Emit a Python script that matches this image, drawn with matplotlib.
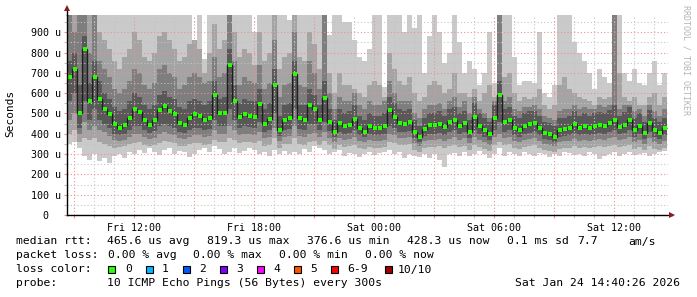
import pandas as pd
import numpy as np
import matplotlib
matplotlib.use("Agg")
import matplotlib.pyplot as plt
import matplotlib.dates as mdates
from matplotlib.patches import Rectangle
from matplotlib.ticker import MultipleLocator, FuncFormatter

# start of the 30 hour window, one column per 15 minutes
start_time = "2026-01-23 08:40"
step = "15min"

# median rtt per column, in microseconds
median_us = [
    680, 720, 500, 819, 560, 680, 570, 520, 495, 450,
    430, 445, 480, 520, 505, 470, 445, 470, 515, 535,
    510, 495, 455, 445, 480, 495, 490, 470, 480, 590,
    500, 500, 740, 560, 482, 495, 490, 485, 545, 450,
    475, 640, 420, 470, 480, 694, 478, 470, 540, 520,
    470, 575, 460, 410, 455, 440, 445, 475, 430, 410,
    440, 430, 430, 440, 515, 485, 455, 450, 460, 410,
    385, 425, 443, 445, 450, 435, 460, 470, 440, 455,
    410, 485, 440, 420, 400, 480, 590, 460, 470, 430,
    420, 440, 450, 455, 430, 405, 400, 385, 420, 425,
    430, 450, 430, 440, 430, 440, 445, 440, 455, 470,
    435, 445, 470, 420, 440, 405, 455, 420, 405, 428,
]

# sorted pings: lowest (ping 1) .. ping 4 below the median
ping1 = [
    350, 360, 330, 290, 270, 300, 265, 280, 255, 290,
    300, 280, 310, 300, 320, 305, 330, 310, 295, 320,
    330, 300, 315, 310, 285, 300, 320, 330, 310, 340,
    325, 300, 310, 330, 305, 315, 330, 320, 300, 310,
    290, 320, 300, 315, 300, 310, 300, 325, 310, 340,
    330, 320, 300, 310, 320, 290, 305, 300, 285, 300,
    310, 295, 305, 310, 320, 300, 310, 280, 300, 290,
    285, 300, 280, 300, 270, 236, 300, 305, 290, 310,
    290, 300, 315, 300, 280, 300, 330, 290, 310, 300,
    290, 310, 300, 290, 305, 300, 285, 300, 290, 310,
    305, 295, 300, 290, 310, 300, 275, 290, 300, 310,
    290, 300, 310, 295, 300, 305, 290, 300, 310, 315,
]
ping2 = [
    400, 420, 360, 380, 370, 380, 360, 350, 340, 330,
    335, 340, 350, 355, 360, 345, 340, 345, 355, 365,
    360, 355, 340, 340, 350, 355, 355, 345, 350, 370,
    360, 360, 380, 370, 355, 360, 360, 355, 365, 340,
    345, 380, 330, 350, 350, 380, 350, 345, 360, 365,
    345, 365, 345, 325, 345, 335, 340, 345, 330, 325,
    335, 330, 330, 335, 360, 355, 345, 345, 350, 320,
    310, 330, 335, 335, 340, 330, 340, 345, 335, 340,
    320, 345, 335, 325, 315, 345, 360, 345, 350, 330,
    325, 335, 340, 345, 330, 320, 315, 310, 325, 330,
    330, 340, 330, 335, 330, 335, 340, 335, 340, 345,
    335, 340, 345, 325, 335, 320, 340, 325, 320, 330,
]
ping3 = [
    470, 500, 400, 460, 420, 440, 420, 410, 390, 370,
    365, 370, 385, 400, 400, 385, 375, 380, 400, 410,
    400, 395, 380, 375, 385, 395, 395, 385, 390, 420,
    400, 400, 440, 420, 395, 400, 400, 395, 410, 380,
    385, 430, 365, 385, 390, 440, 390, 385, 400, 405,
    385, 410, 380, 360, 380, 370, 375, 385, 365, 360,
    370, 365, 365, 370, 400, 395, 380, 380, 385, 355,
    340, 365, 370, 370, 375, 365, 375, 385, 370, 380,
    355, 385, 370, 360, 345, 385, 400, 380, 385, 365,
    360, 370, 375, 380, 365, 350, 345, 340, 360, 365,
    365, 375, 365, 370, 365, 370, 375, 370, 380, 385,
    370, 375, 385, 360, 370, 350, 380, 360, 350, 365,
]
ping4 = [
    560, 600, 430, 560, 470, 520, 470, 450, 430, 400,
    395, 400, 420, 440, 440, 420, 405, 415, 440, 450,
    440, 430, 410, 405, 420, 430, 430, 420, 425, 470,
    440, 440, 520, 470, 430, 440, 435, 430, 460, 410,
    420, 500, 390, 420, 425, 520, 425, 420, 450, 450,
    420, 460, 415, 385, 410, 400, 405, 420, 395, 385,
    400, 395, 395, 400, 440, 430, 410, 410, 415, 380,
    360, 390, 400, 400, 405, 395, 410, 420, 400, 410,
    380, 420, 400, 385, 370, 420, 460, 410, 420, 395,
    385, 400, 405, 410, 395, 375, 370, 360, 385, 390,
    395, 405, 395, 400, 395, 400, 405, 400, 410, 420,
    400, 405, 420, 385, 400, 375, 410, 385, 375, 395,
]

# sorted pings above the median: ping 7 .. highest (ping 10)
ping7 = [
    760, 800, 640, 880, 650, 760, 660, 600, 570, 530,
    510, 520, 560, 600, 580, 540, 520, 540, 590, 610,
    580, 570, 530, 520, 560, 570, 560, 540, 560, 660,
    570, 580, 820, 640, 550, 570, 560, 560, 620, 520,
    550, 720, 490, 540, 550, 760, 540, 540, 620, 590,
    540, 660, 520, 470, 520, 500, 510, 540, 490, 470,
    500, 490, 490, 500, 580, 550, 520, 510, 520, 470,
    440, 480, 500, 500, 510, 490, 520, 530, 500, 510,
    470, 550, 500, 480, 460, 540, 660, 520, 530, 490,
    480, 500, 510, 510, 490, 460, 455, 440, 480, 480,
    490, 510, 490, 500, 490, 500, 505, 500, 515, 540,
    490, 505, 530, 480, 500, 460, 515, 480, 460, 480,
]
ping8 = [
    990, 900, 990, 990, 800, 990, 760, 720, 680, 620,
    600, 620, 660, 720, 700, 640, 620, 650, 720, 740,
    700, 680, 620, 640, 680, 700, 680, 650, 660, 780,
    680, 700, 990, 760, 640, 680, 660, 650, 740, 620,
    650, 860, 580, 640, 650, 900, 640, 630, 760, 700,
    620, 990, 600, 520, 580, 560, 560, 600, 540, 520,
    560, 540, 540, 560, 660, 600, 560, 560, 560, 500,
    480, 520, 540, 540, 550, 520, 560, 580, 530, 560,
    500, 580, 520, 500, 480, 560, 990, 560, 580, 520,
    510, 530, 530, 540, 520, 490, 480, 470, 510, 520,
    520, 540, 520, 530, 520, 520, 540, 530, 540, 990,
    520, 540, 540, 510, 520, 490, 540, 510, 490, 520,
]
ping9 = [
    990, 990, 990, 990, 990, 990, 900, 860, 820, 760,
    720, 780, 820, 900, 860, 780, 760, 800, 880, 900,
    860, 820, 760, 780, 840, 860, 820, 700, 800, 940,
    820, 860, 990, 900, 780, 820, 800, 740, 900, 760,
    800, 990, 720, 780, 800, 990, 780, 760, 900, 840,
    720, 990, 700, 600, 700, 640, 640, 620, 600, 580,
    640, 660, 640, 580, 800, 720, 660, 640, 680, 600,
    560, 580, 640, 660, 640, 600, 620, 700, 600, 600,
    580, 620, 560, 600, 640, 580, 990, 680, 700, 600,
    560, 580, 570, 580, 620, 540, 520, 540, 640, 680,
    620, 600, 580, 570, 560, 540, 580, 570, 580, 990,
    700, 580, 560, 580, 540, 540, 580, 600, 540, 580,
]
ping10 = [
    990, 990, 990, 990, 990, 990, 990, 990, 990, 990,
    990, 990, 990, 990, 990, 990, 990, 990, 990, 990,
    990, 990, 990, 990, 990, 860, 990, 770, 990, 990,
    990, 990, 990, 990, 990, 990, 990, 900, 990, 990,
    990, 990, 990, 990, 960, 990, 990, 990, 990, 990,
    990, 990, 885, 990, 990, 950, 950, 860, 780, 760,
    820, 990, 990, 630, 990, 990, 990, 900, 990, 920,
    990, 700, 880, 990, 900, 750, 800, 990, 850, 700,
    760, 720, 640, 700, 900, 650, 990, 990, 990, 780,
    640, 660, 660, 650, 900, 600, 580, 640, 990, 990,
    990, 850, 800, 760, 700, 620, 720, 680, 650, 990,
    990, 700, 660, 720, 650, 640, 700, 760, 640, 700,
]

# legend texts
loss_labels = ["0", "1", "2", "3", "4", "5", "6-9", "10/10"]
loss_colors = ["#26ff00", "#00b8ff", "#0059ff", "#7e00ff", "#ff00ff", "#ff5500", "#ff0000", "#a00000"]
rtt_stats = ["465.6 us avg", "819.3 us max", "376.6 us min", "428.3 us now", "0.1 ms sd", "7.7", "am/s"]
loss_stats = ["0.00 % avg", "0.00 % max", "0.00 % min", "0.00 % now"]
probe_text = "10 ICMP Echo Pings (56 Bytes) every 300s"
stamp_text = "Sat Jan 24 14:40:26 2026"

W, H = 697, 297
mono = "DejaVu Sans Mono"
plt.rcParams["font.family"] = mono


def px(x, y):
    # pixel position in the image -> figure fraction
    return x / W, 1 - y / H


fig = plt.figure(figsize=(W / 100, H / 100), dpi=100)
ax = fig.add_axes([67 / W, (H - 215) / H, 601 / W, 200 / H])

# column edges in matplotlib date numbers
edges = mdates.date2num(pd.date_range(start_time, periods=len(median_us) + 1, freq=step))
centers = (edges[:-1] + edges[1:]) / 2

# smoke: outer pair of pings lightest, inner pair darkest
bands = [
    (ping1, ping10, "#cacaca"),
    (ping2, ping9, "#a4a4a4"),
    (ping3, ping8, "#7e7e7e"),
    (ping4, ping7, "#585858"),
]
for lo, hi, col in bands:
    ax.stairs(hi, edges, baseline=lo, fill=True, color=col, lw=0, zorder=1)

# dark connecting line through the medians
ax.stairs(median_us, edges, color="#1e1e1e", lw=1.0, zorder=2, baseline=None)

# median markers coloured by loss (all 0 here)
ax.plot(centers, median_us, ls="none", marker="s", ms=2.3, mew=0,
        color=loss_colors[0], zorder=5)

# axes limits
ax.set_ylim(0, 985)
ax.set_xlim(edges[0], edges[0] + 30.05 / 24)

# grid: red every 100 u / 3 h, grey every 50 u / 1 h
ax.yaxis.set_major_locator(MultipleLocator(100))
ax.yaxis.set_minor_locator(MultipleLocator(50))
ax.xaxis.set_major_locator(mdates.HourLocator(byhour=range(0, 24, 3)))
ax.xaxis.set_minor_locator(mdates.HourLocator())
ax.grid(which="minor", color="#c4c4c4", ls=(0, (1, 2)), lw=0.8, zorder=3)
ax.grid(which="major", color="#f09090", ls=(0, (1, 2)), lw=0.8, zorder=3)


def y_fmt(v, pos):
    if v == 0:
        return "0  "
    return "%d u" % v


def x_fmt(v, pos):
    d = mdates.num2date(v)
    if d.hour % 6 == 0:
        return d.strftime("%a %H:%M")
    return ""


ax.yaxis.set_major_formatter(FuncFormatter(y_fmt))
ax.xaxis.set_major_formatter(FuncFormatter(x_fmt))
ax.tick_params(which="both", labelsize=7.2, length=2, width=0.8, colors="black", pad=2)
ax.tick_params(which="minor", color="#c4c4c4")
ax.tick_params(axis="x", which="major", color="#f09090", pad=4)
ax.tick_params(axis="y", which="major", color="#f09090")

# axes lines with small arrows like rrdtool
for side in ["top", "right"]:
    ax.spines[side].set_visible(False)
for side in ["left", "bottom"]:
    ax.spines[side].set_color("black")
    ax.spines[side].set_linewidth(1)
    ax.spines[side].set_zorder(6)
ax.spines["bottom"].set_bounds(edges[0], edges[0] + 30.25 / 24)
ax.plot([edges[0], edges[0]], [985, 1010], color="black", lw=1, clip_on=False, zorder=6)
ax.plot([edges[0]], [1018], marker="^", ms=4, mew=0, color="#8b1a1a", clip_on=False, zorder=7)
ax.plot([edges[0] + 30.25 / 24], [0], marker=">", ms=4, mew=0, color="#8b1a1a", clip_on=False, zorder=7)

# y axis title and watermark
fig.text(*px(10, 113), "Seconds", rotation=90, ha="center", va="center", fontsize=8)
fig.text(*px(686, 5), "RRDTOOL / TOBI OETIKER", rotation=270, ha="center", va="top",
         fontsize=6, color="#b4b4b4")

# legend block under the chart
fs = 8.2
fig.text(*px(16, 241.5), "median rtt:", fontsize=fs, va="center")
for x, s in zip([107, 207, 307, 407, 507, 577, 628], rtt_stats):
    fig.text(*px(x, 241.5), s, fontsize=fs, va="center")

fig.text(*px(16, 255.5), "packet loss:", fontsize=fs, va="center")
for x, s in zip([107.5, 193, 279, 365], loss_stats):
    fig.text(*px(x, 255.5), s, fontsize=fs, va="center")

fig.text(*px(16, 269.5), "loss color:", fontsize=fs, va="center")
swatch_x = [108, 145.5, 182.5, 219.5, 256.5, 293.5, 330.5, 385]
label_x = [125, 162, 199, 236, 273, 310, 347, 398]
for sx, lx, lab, col in zip(swatch_x, label_x, loss_labels, loss_colors):
    x0, y0 = px(sx, 273)
    fig.patches.append(Rectangle((x0, y0), 7 / W, 7 / H, transform=fig.transFigure,
                                 facecolor=col, edgecolor="black", lw=0.8))
    fig.text(*px(lx, 269.5), lab, fontsize=fs, va="center")

fig.text(*px(16, 283.5), "probe:", fontsize=fs, va="center")
fig.text(*px(107, 283.5), probe_text, fontsize=fs, va="center")
fig.text(*px(680, 283.5), stamp_text, fontsize=fs, va="center", ha="right")

fig.savefig("out.png", dpi=100)
